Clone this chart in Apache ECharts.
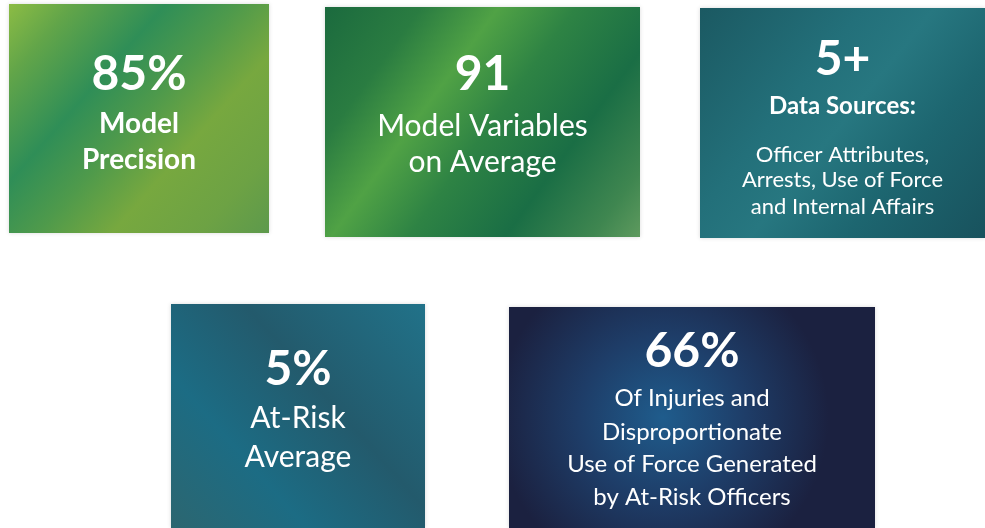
<!DOCTYPE html>
<html>
<head>
<meta charset="utf-8">
<script src="https://cdn.jsdelivr.net/npm/echarts@6/dist/echarts.min.js"></script>
<style>
  html, body { margin: 0; padding: 0; background: #fff; }
  #main { width: 985px; height: 528px; }
</style>
</head>
<body>
<div id="main"></div>
<script>
// stat figures and their captions
var headlines = ['85%', '91', '5+', '5%', '66%'];
var captions = [
    ['Model', 'Precision'],
    ['Model Variables', 'on Average'],
    ['Data Sources:'],
    ['At-Risk', 'Average'],
    ['Of Injuries and', 'Disproportionate', 'Use of Force Generated', 'by At-Risk Officers']
];
var notes = [[], [], ['Officer Attributes,', 'Arrests, Use of Force', 'and Internal Affairs'], [], []];

// layout of the tiles (x, y, w, h) and line positions
var boxes = [
    [9, 4, 260, 229],
    [325, 7, 315, 230],
    [700, 8, 285, 230],
    [171, 304, 254, 224],
    [509, 307, 366, 221]
];
var headY = [75, 75, 60, 370, 352];
var capY = [[124, 160], [126, 162], [106], [418, 457], [398, 432, 464, 497]];
var noteY = [[], [], [155, 180, 207], [], []];
var capBold = [true, false, true, false, false];
var capSize = [28, 30, 24, 30, 24];
var noteSize = 22;

var fills = [
    {type: 'linear', x: 0, y: 0, x2: 1, y2: 1, colorStops: [
        {offset: 0, color: '#8cbc44'}, {offset: 0.14, color: '#62a549'},
        {offset: 0.34, color: '#2f8e57'}, {offset: 0.5, color: '#4f9a4b'},
        {offset: 0.66, color: '#77a83f'}, {offset: 0.85, color: '#6da244'},
        {offset: 1, color: '#5d994c'}]},
    {type: 'linear', x: 0, y: 0, x2: 1, y2: 1, colorStops: [
        {offset: 0, color: '#1b6a3e'}, {offset: 0.2, color: '#2a7c41'},
        {offset: 0.36, color: '#50a245'}, {offset: 0.52, color: '#2e8344'},
        {offset: 0.72, color: '#1a6e45'}, {offset: 0.9, color: '#3f8650'},
        {offset: 1, color: '#5e9a5e'}]},
    {type: 'linear', x: 0, y: 0, x2: 1, y2: 1, colorStops: [
        {offset: 0, color: '#1b5962'}, {offset: 0.35, color: '#23707a'},
        {offset: 0.5, color: '#277780'}, {offset: 0.7, color: '#1d6670'},
        {offset: 1, color: '#18525d'}]},
    {type: 'linear', x: 1, y: 0, x2: 0, y2: 1, colorStops: [
        {offset: 0, color: '#217289'}, {offset: 0.4, color: '#235a6c'},
        {offset: 0.7, color: '#1c6c84'}, {offset: 1, color: '#2c6670'}]},
    {type: 'radial', x: 0.42, y: 0.5, r: 0.75, colorStops: [
        {offset: 0, color: '#1f5c8c'}, {offset: 0.5, color: '#1e3d68'},
        {offset: 1, color: '#1b2140'}]}
];

var fontFamily = 'Lato, "Open Sans", sans-serif';

function textEl(str, x, y, size, bold) {
    return {
        type: 'text',
        style: {
            text: str, x: x, y: y,
            fill: '#ffffff',
            font: (bold ? 'bold ' : '') + size + 'px ' + fontFamily,
            textAlign: 'center', textVerticalAlign: 'middle',
            align: 'center', verticalAlign: 'middle'
        },
        z: 10
    };
}

var elements = [];
headlines.forEach(function (h, i) {
    var b = boxes[i];
    var cx = b[0] + b[2] / 2;
    elements.push({
        type: 'rect',
        shape: {x: b[0], y: b[1], width: b[2], height: b[3]},
        style: {fill: fills[i], shadowBlur: 4, shadowColor: 'rgba(0,0,0,0.15)'}
    });
    elements.push(textEl(h, cx, headY[i], 48, true));
    captions[i].forEach(function (c, j) {
        elements.push(textEl(c, cx, capY[i][j], capSize[i], capBold[i]));
    });
    notes[i].forEach(function (n, j) {
        elements.push(textEl(n, cx, noteY[i][j], noteSize, false));
    });
});

var chart = echarts.init(document.getElementById('main'));
chart.setOption({
    backgroundColor: '#ffffff',
    graphic: elements
});
</script>
</body>
</html>
